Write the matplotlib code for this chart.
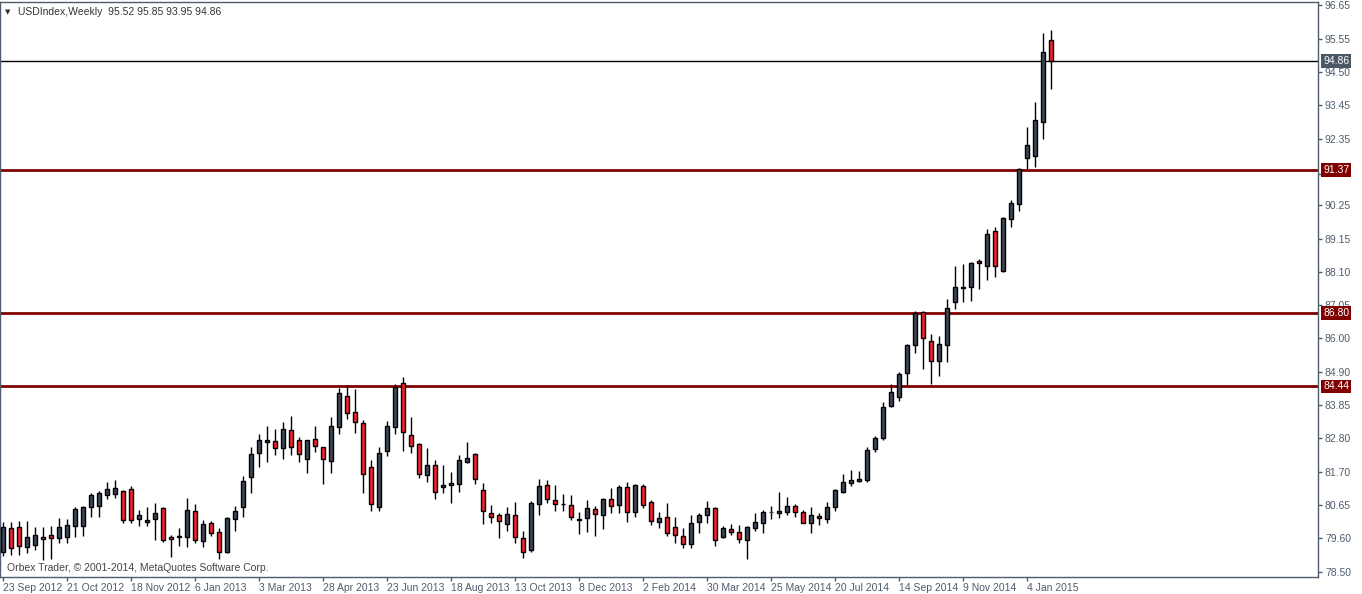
import matplotlib
matplotlib.use("Agg")
import matplotlib.pyplot as plt

plt.rcParams["font.family"] = ["Liberation Sans", "DejaVu Sans"]

# weekly USD index candles (oldest first)
opens = [79.15, 79.91, 79.95, 79.31, 79.37, 79.63, 79.69, 79.59, 79.63, 79.98,
         79.98, 80.59, 80.62, 80.97, 81.00, 81.10, 81.16, 80.20, 80.11, 80.20,
         80.55, 79.63, 79.63, 79.63, 80.46, 79.50, 80.07, 79.79, 79.15, 80.20,
         80.59, 81.55, 82.31, 82.67, 82.70, 82.47, 83.05, 82.73, 82.12, 82.76,
         82.51, 82.06, 83.15, 84.14, 83.63, 83.27, 81.87, 80.59, 82.38, 83.15,
         84.55, 82.89, 82.60, 81.61, 81.93, 81.23, 81.29, 81.32, 82.03, 82.28,
         81.13, 80.39, 80.33, 80.04, 80.33, 79.59, 79.21, 80.68, 81.29, 80.81,
         80.67, 80.65, 80.17, 80.23, 80.52, 80.33, 80.84, 80.65, 81.23, 80.43,
         81.26, 80.75, 80.11, 80.27, 79.95, 79.66, 79.40, 80.11, 80.33, 80.55,
         79.63, 79.88, 79.79, 79.53, 79.91, 80.07, 80.43, 80.39, 80.43, 80.62,
         80.43, 80.07, 80.30, 80.20, 80.59, 81.07, 81.35, 81.42, 81.45, 82.44,
         82.79, 83.82, 84.11, 84.87, 85.77, 86.83, 85.90, 85.26, 85.77, 87.15,
         87.59, 87.63, 88.46, 88.30, 89.42, 88.14, 89.80, 90.28, 91.75, 91.82,
         92.91, 95.52]
highs = [80.11, 80.11, 80.14, 80.14, 79.95, 79.95, 79.98, 80.23, 80.20, 80.59,
         80.62, 81.03, 81.10, 81.39, 81.45, 81.13, 81.26, 80.49, 80.59, 80.71,
         80.59, 79.69, 79.91, 80.87, 80.68, 80.17, 80.14, 79.91, 80.27, 80.62,
         81.58, 82.51, 82.92, 83.18, 83.08, 83.31, 83.50, 82.83, 82.73, 83.18,
         82.51, 83.47, 84.39, 84.49, 84.36, 83.37, 82.09, 82.51, 83.34, 84.52,
         84.75, 83.47, 82.63, 82.47, 82.09, 81.93, 81.71, 82.25, 82.67, 82.31,
         81.35, 80.65, 80.39, 80.59, 80.75, 79.82, 80.78, 81.48, 81.45, 81.29,
         81.00, 80.97, 80.43, 80.81, 80.62, 80.87, 81.19, 81.29, 81.39, 81.32,
         81.32, 80.81, 80.43, 80.71, 80.27, 79.91, 80.33, 80.39, 80.78, 80.57,
         79.98, 80.04, 80.01, 79.96, 80.39, 80.49, 80.62, 81.07, 80.91, 80.68,
         80.49, 80.59, 80.39, 80.75, 81.16, 81.64, 81.77, 81.74, 82.51, 82.86,
         83.95, 84.52, 84.91, 85.80, 86.86, 86.84, 86.12, 86.06, 87.24, 88.30,
         88.36, 88.43, 88.52, 89.48, 89.55, 89.87, 90.41, 91.42, 92.75, 93.55,
         95.75, 95.85]
lows = [79.02, 79.05, 79.05, 79.11, 79.21, 78.89, 78.92, 79.43, 79.43, 79.63,
        79.66, 80.27, 80.27, 80.84, 80.87, 80.07, 80.07, 79.98, 79.98, 79.53,
        79.47, 78.99, 79.34, 79.31, 79.43, 79.31, 79.66, 78.92, 79.11, 79.82,
        80.27, 81.03, 81.87, 82.03, 82.25, 82.12, 82.25, 82.03, 81.67, 82.35,
        81.32, 81.67, 82.92, 83.40, 82.95, 81.03, 80.46, 80.46, 82.22, 82.92,
        82.38, 82.31, 81.51, 81.39, 80.84, 81.03, 80.71, 81.07, 81.99, 81.32,
        80.04, 80.07, 79.59, 79.82, 79.43, 78.95, 79.15, 80.33, 80.71, 80.46,
        80.46, 80.17, 79.72, 79.79, 79.66, 79.88, 80.39, 80.39, 80.11, 80.27,
        80.55, 80.01, 79.91, 79.66, 79.43, 79.27, 79.27, 79.75, 80.07, 79.34,
        79.59, 79.69, 79.43, 78.92, 79.82, 79.75, 80.20, 80.23, 80.33, 80.27,
        80.06, 79.75, 80.01, 80.07, 80.46, 81.03, 81.26, 81.39, 81.39, 82.35,
        82.73, 83.79, 83.98, 84.46, 85.51, 85.00, 84.52, 84.78, 85.23, 86.92,
        87.15, 87.18, 87.56, 87.85, 87.95, 88.11, 89.55, 90.06, 91.40, 91.47,
        92.36, 93.95]
closes = [79.95, 79.27, 79.34, 79.63, 79.69, 79.56, 79.59, 79.95, 80.01, 80.52,
          80.59, 80.97, 81.03, 81.16, 81.19, 80.17, 80.17, 80.33, 80.17, 80.39,
          79.53, 79.56, 79.66, 80.49, 79.53, 80.04, 79.75, 79.15, 80.23, 80.46,
          81.42, 82.28, 82.73, 82.73, 82.47, 83.08, 82.51, 82.28, 82.73, 82.54,
          82.12, 83.18, 84.23, 83.59, 83.31, 81.64, 80.68, 82.31, 83.18, 84.43,
          82.99, 82.54, 81.64, 81.93, 81.07, 81.29, 81.35, 82.09, 82.15, 81.48,
          80.46, 80.27, 80.14, 80.36, 79.63, 79.15, 80.71, 81.26, 80.84, 80.68,
          80.69, 80.27, 80.20, 80.55, 80.36, 80.84, 80.62, 81.23, 80.43, 81.29,
          80.65, 80.14, 80.23, 79.75, 79.69, 79.40, 80.07, 80.33, 80.55, 79.53,
          79.91, 79.79, 79.56, 79.95, 80.11, 80.43, 80.43, 80.46, 80.62, 80.43,
          80.07, 80.33, 80.23, 80.59, 81.13, 81.39, 81.45, 81.48, 82.41, 82.79,
          83.79, 84.27, 84.84, 85.77, 86.79, 85.99, 85.26, 85.80, 86.95, 87.63,
          87.61, 88.39, 88.39, 89.32, 88.30, 89.83, 90.31, 91.40, 92.17, 92.97,
          95.15, 94.86]

date_labels = ["23 Sep 2012", "21 Oct 2012", "18 Nov 2012", "6 Jan 2013",
               "3 Mar 2013", "28 Apr 2013", "23 Jun 2013", "18 Aug 2013",
               "13 Oct 2013", "8 Dec 2013", "2 Feb 2014", "30 Mar 2014",
               "25 May 2014", "20 Jul 2014", "14 Sep 2014", "9 Nov 2014",
               "4 Jan 2015"]
price_ticks = [96.65, 95.55, 94.50, 93.45, 92.35, 91.25, 90.25, 89.15, 88.10,
               87.05, 86.00, 84.90, 83.85, 82.80, 81.70, 80.65, 79.60, 78.50]
levels = [91.37, 86.80, 84.44]
last_price = 94.86

bull = "#3c4654"
bear = "#f5222d"
maroon = "#800000"
axcol = "#4e5c6c"

fig = plt.figure(figsize=(13.62, 5.94), dpi=100)
ax = fig.add_axes([0, 17 / 594, 1318 / 1362, 575 / 594])

n = len(opens)
xs = list(range(n))

# wicks
ax.vlines(xs, lows, highs, color="black", lw=1, zorder=2)

# bodies
for i in xs:
    o, c = opens[i], closes[i]
    if c > o:
        fc, ec = bull, "black"
    elif c < o:
        fc, ec = bear, "black"
    else:
        fc, ec = bull, bull
    ax.bar(i, c - o, bottom=o, width=0.62, color=fc, edgecolor=ec, lw=1, zorder=3)

# horizontal levels
for lv in levels:
    ax.axhline(lv, color=maroon, lw=2, zorder=1)
ax.axhline(last_price, color="black", lw=1, zorder=1)

ax.set_xlim(-0.375, 164.375)
ax.set_ylim(78.34, 96.746)

# tick labels hidden behind a price tag in the original are left blank
ylabels = []
for p in price_ticks:
    if any(abs(p - lv) < 0.15 for lv in levels):
        ylabels.append("")
    else:
        ylabels.append("%.2f" % p)

ax.yaxis.tick_right()
ax.set_yticks(price_ticks)
ax.set_yticklabels(ylabels)
ax.set_xticks(range(0, 8 * len(date_labels), 8))
ax.set_xticklabels(date_labels, ha="left")
ax.tick_params(axis="both", colors=axcol, labelsize=7.5, length=3, width=1, pad=2)
ax.tick_params(axis="x", pad=1)
for s in ax.spines.values():
    s.set_color(axcol)
    s.set_linewidth(1)

# price tags on the right axis
tr = ax.get_yaxis_transform()
for lv in levels:
    ax.text(1.0038, lv, "%.2f" % lv, transform=tr, fontsize=7.5, color="white",
            va="center", ha="left", zorder=5, clip_on=False,
            bbox=dict(boxstyle="square,pad=0.18", fc=maroon, ec="none"))
ax.text(1.0038, last_price, "%.2f" % last_price, transform=tr, fontsize=7.5,
        color="white", va="center", ha="left", zorder=5, clip_on=False,
        bbox=dict(boxstyle="square,pad=0.18", fc="#4a5866", ec="none"))

# header and footer text
ax.text(0.004, 0.982, "\u25bc", transform=ax.transAxes, fontsize=5,
        color="#333333", va="center", ha="left", family="DejaVu Sans")
ax.text(0.0135, 0.982, "USDIndex,Weekly  %.2f %.2f %.2f %.2f" % (
    opens[-1], highs[-1], lows[-1], closes[-1]),
    transform=ax.transAxes, fontsize=7.5, color="#333333", va="center", ha="left")
ax.text(0.005, 0.016, "Orbex Trader, \u00a9 2001-2014, MetaQuotes Software Corp.",
        transform=ax.transAxes, fontsize=7.5, color="#444444", va="center", ha="left")

fig.savefig("out.png", dpi=100)
